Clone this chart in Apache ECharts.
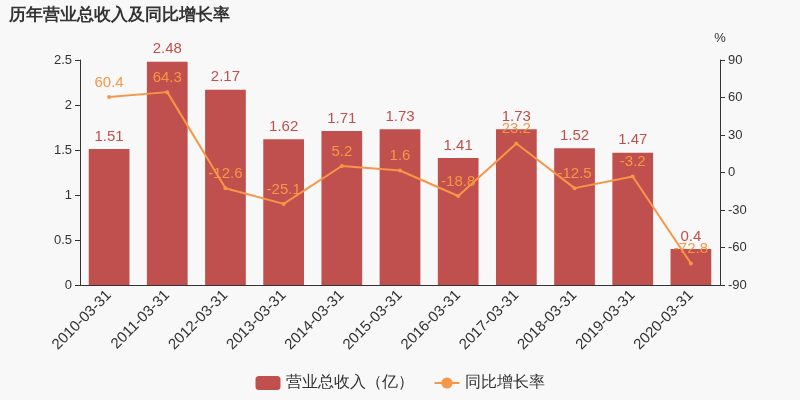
<!DOCTYPE html>
<html>
<head>
<meta charset="utf-8">
<script src="https://cdn.jsdelivr.net/npm/echarts@6/dist/echarts.min.js"></script>
<style>
  html, body { margin: 0; padding: 0; background: #f8f8f8; }
  #chart { width: 800px; height: 400px; }
</style>
</head>
<body>
<div id="chart"></div>
<script>
const categories = ['2010-03-31', '2011-03-31', '2012-03-31', '2013-03-31', '2014-03-31', '2015-03-31',
    '2016-03-31', '2017-03-31', '2018-03-31', '2019-03-31', '2020-03-31'];
const revenue = [1.51, 2.48, 2.17, 1.62, 1.71, 1.73, 1.41, 1.73, 1.52, 1.47, 0.4];
const growth = [60.4, 64.3, -12.6, -25.1, 5.2, 1.6, -18.8, 23.2, -12.5, -3.2, -72.8];

const chart = echarts.init(document.getElementById('chart'));
chart.setOption({
    backgroundColor: '#f8f8f8',
    title: {
        text: '历年营业总收入及同比增长率',
        left: 4, top: 2,
        textStyle: { fontSize: 17, fontWeight: 'bold', color: '#333' }
    },
    legend: {
        bottom: 4,
        itemGap: 20,
        textStyle: { fontSize: 16, color: '#333' },
        data: ['营业总收入（亿）', '同比增长率']
    },
    grid: { left: 80, right: 80, top: 60, bottom: 115 },
    xAxis: {
        type: 'category',
        data: categories,
        axisTick: { show: false },
        axisLine: { lineStyle: { color: '#333' } },
        axisLabel: { rotate: 45, fontSize: 15, color: '#333', interval: 0 }
    },
    yAxis: [{
        type: 'value', min: 0, max: 2.5, interval: 0.5,
        splitLine: { show: false },
        axisLine: { show: true, lineStyle: { color: '#333' } },
        axisTick: { show: true },
        axisLabel: { color: '#333', fontSize: 13 }
    }, {
        type: 'value', min: -90, max: 90, interval: 30,
        name: '%', nameTextStyle: { color: '#333', fontSize: 13 },
        splitLine: { show: false },
        axisLine: { show: true, lineStyle: { color: '#333' } },
        axisTick: { show: true },
        axisLabel: { color: '#333', fontSize: 13 }
    }],
    series: [{
        name: '营业总收入（亿）',
        type: 'bar',
        data: revenue,
        barWidth: '70%',
        itemStyle: { color: '#c0504d' },
        label: { show: true, position: 'top', color: '#c0504d', fontSize: 15 }
    }, {
        name: '同比增长率',
        type: 'line',
        yAxisIndex: 1,
        data: growth,
        symbol: 'circle',
        symbolSize: 4,
        itemStyle: { color: '#f79646' },
        lineStyle: { color: '#f79646', width: 2 },
        label: { show: true, position: 'top', color: '#f79646', fontSize: 15 }
    }]
});
</script>
</body>
</html>
